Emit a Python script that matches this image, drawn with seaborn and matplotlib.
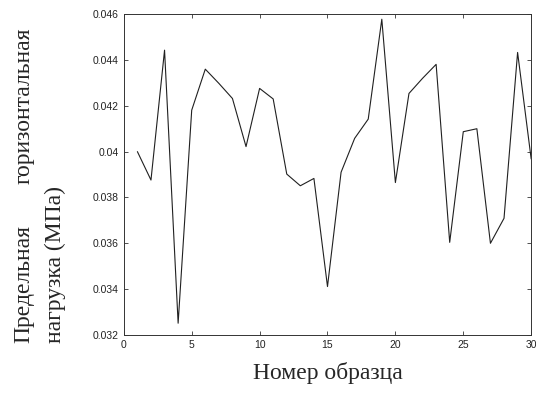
import numpy as np
import pandas as pd
import matplotlib
matplotlib.use("Agg")
import matplotlib.pyplot as plt
import seaborn as sns

sample_no = list(range(1, 31))
load_mpa = [0.0400, 0.03876, 0.04443, 0.03251, 0.04181, 0.0436, 0.04298, 0.04232,
            0.04022, 0.04276, 0.0423, 0.03902, 0.03851, 0.03883, 0.03411, 0.0391,
            0.04058, 0.04142, 0.04578, 0.03865, 0.04254, 0.0432, 0.04381, 0.03604,
            0.04087, 0.0410, 0.0360, 0.03709, 0.04433, 0.03968]

df = pd.DataFrame({"sample": sample_no, "load": load_mpa})

sns.set_style("ticks")
plt.rcParams["font.family"] = ["Liberation Sans", "DejaVu Sans"]

fig = plt.figure(figsize=(5.36, 3.94), dpi=100)
ax = fig.add_axes([0.231, 0.150, 0.760, 0.814])
sns.lineplot(data=df, x="sample", y="load", ax=ax, color="#202020", linewidth=0.8)

ax.set_xlim(0, 30)
ax.set_ylim(0.032, 0.046)
ax.set_xticks([0, 5, 10, 15, 20, 25, 30])
ax.set_yticks(np.arange(0.032, 0.0461, 0.002))
ax.set_yticklabels(["0.032", "0.034", "0.036", "0.038", "0.04", "0.042", "0.044", "0.046"])
ax.tick_params(direction="in", top=True, right=True, length=3, width=0.6,
               labelsize=7.5, colors="#333333", labelcolor="#222222")
for s in ax.spines.values():
    s.set_linewidth(0.7)
    s.set_color("#333333")

serif = ["Liberation Serif", "DejaVu Serif"]
ax.set_xlabel("Номер образца", fontsize=17, family=serif, labelpad=9)
ax.set_ylabel("")
fig.text(0.045, 0.129, "Предельная", rotation=90, fontsize=17, family=serif,
         ha="center", va="bottom")
fig.text(0.045, 0.929, "горизонтальная", rotation=90, fontsize=17, family=serif,
         ha="center", va="top")
fig.text(0.103, 0.129, "нагрузка (МПа)", rotation=90, fontsize=17, family=serif,
         ha="center", va="bottom")

fig.savefig("out.png", dpi=100)
